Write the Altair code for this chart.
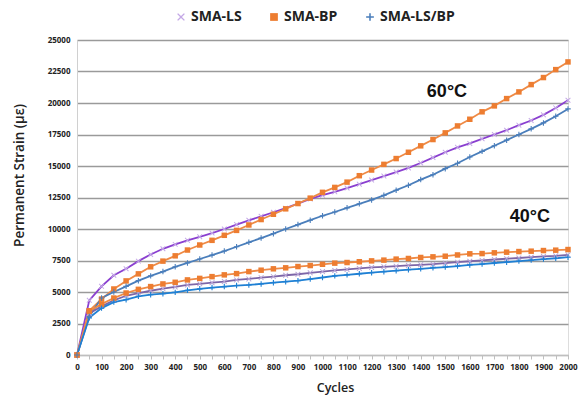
import altair as alt
import pandas as pd

cycles = list(range(0, 2001, 50))

ls_60 = [0, 4340, 5450, 6330, 6850, 7450, 7980, 8430, 8780, 9100, 9380,
         9680, 10000, 10350, 10690, 11010, 11330, 11650, 12020, 12390, 12680,
         12950, 13250, 13560, 13880, 14200, 14520, 14850, 15240, 15670, 16090,
         16480, 16790, 17160, 17500, 17840, 18240, 18610, 19060, 19610, 20220]
bp_60 = [0, 3510, 4440, 5240, 5880, 6440, 7000, 7450, 7870, 8330, 8730,
         9100, 9500, 9890, 10320, 10750, 11170, 11600, 12020, 12450, 12910,
         13300, 13720, 14230, 14680, 15130, 15590, 16090, 16600, 17100, 17630,
         18180, 18710, 19300, 19770, 20350, 20880, 21460, 22020, 22650, 23260]
lsbp_60 = [0, 3060, 4520, 5000, 5450, 5900, 6280, 6620, 7000, 7310, 7620,
           7930, 8250, 8590, 8940, 9280, 9630, 10000, 10350, 10700, 11050,
           11350, 11680, 12000, 12310, 12670, 13080, 13470, 13920, 14310, 14790,
           15220, 15710, 16160, 16610, 17050, 17500, 17950, 18420, 18950, 19530]
ls_40 = [0, 3300, 3860, 4340, 4700, 4920, 5100, 5270, 5400, 5560, 5650,
         5740, 5830, 5960, 6040, 6140, 6220, 6330, 6410, 6520, 6620,
         6710, 6790, 6870, 6950, 7000, 7050, 7110, 7160, 7210, 7290,
         7370, 7440, 7510, 7580, 7640, 7700, 7760, 7820, 7870, 7950]
bp_40 = [0, 3480, 4040, 4520, 4920, 5210, 5430, 5640, 5770, 5960, 6080,
         6220, 6360, 6460, 6620, 6730, 6840, 6920, 7020, 7100, 7200,
         7290, 7340, 7400, 7470, 7530, 7610, 7660, 7740, 7790, 7840,
         7940, 8030, 8050, 8110, 8160, 8210, 8240, 8290, 8320, 8370]
lsbp_40 = [0, 2950, 3720, 4200, 4390, 4660, 4790, 4870, 4970, 5130, 5250,
           5350, 5430, 5510, 5560, 5640, 5740, 5820, 5900, 6030, 6150,
           6280, 6360, 6450, 6530, 6610, 6690, 6770, 6840, 6920, 6980,
           7060, 7150, 7220, 7300, 7370, 7450, 7530, 7610, 7680, 7760]

series_names = ["SMA-LS", "SMA-BP", "SMA-LS/BP"]
ann_labels = ["60°C", "40°C"]
ann_x = [1507, 1845]
ann_y = [20870, 10950]

rows = []
for name, temp, vals in [("SMA-LS", "60", ls_60), ("SMA-BP", "60", bp_60), ("SMA-LS/BP", "60", lsbp_60),
                         ("SMA-LS", "40", ls_40), ("SMA-BP", "40", bp_40), ("SMA-LS/BP", "40", lsbp_40)]:
    for c, v in zip(cycles, vals):
        rows.append({"Cycles": c, "Strain": v, "Series": name, "Temp": temp, "Key": name + " " + temp})
df = pd.DataFrame(rows)
df60 = df[df.Temp == "60"]
df40 = df[df.Temp == "40"]
ann = pd.DataFrame({"label": ann_labels, "x": ann_x, "y": ann_y})

X_PATH = "M-1,-0.75L-0.75,-1L0,-0.25L0.75,-1L1,-0.75L0.25,0L1,0.75L0.75,1L0,0.25L-0.75,1L-1,0.75L-0.25,0Z"
PLUS_PATH = "M-1,-0.2L-0.2,-0.2L-0.2,-1L0.2,-1L0.2,-0.2L1,-0.2L1,0.2L0.2,0.2L0.2,1L-0.2,1L-0.2,0.2L-1,0.2Z"

key_domain = ["SMA-LS 60", "SMA-BP 60", "SMA-LS/BP 60", "SMA-LS 40", "SMA-BP 40", "SMA-LS/BP 40"]
line_colors = ["#8a3fd0", "#ef8a45", "#4a7ebb", "#7d66a8", "#ef8a45", "#1f80d4"]
marker_colors = ["#c4a8e6", "#ed7d31", "#4a7ebb", "#b8a4d6", "#ed7d31", "#1f80d4"]

x_axis = alt.Axis(values=cycles, labelExpr="datum.value % 100 == 0 ? format(datum.value, 'd') : ''",
                  grid=False, tickSize=4, tickColor="#bfbfbf", domainColor="#bfbfbf",
                  labelFont="Open Sans", labelFontWeight="bold", labelFontSize=8,
                  labelColor="#222", labelPadding=4, labelOverlap=False, labelFlush=False,
                  labelBound=False,
                  title="Cycles", titleFont="Open Sans", titleFontSize=12.5, titleFontWeight=600,
                  titleColor="#222", titlePadding=10, titleX=258)
y_axis = alt.Axis(values=list(range(0, 25001, 2500)), format="d", grid=True,
                  gridColor="#9a9a9a", gridWidth=1.6, ticks=False, domainColor="#d0d0d0",
                  labelFont="Open Sans", labelFontWeight="bold", labelFontSize=8,
                  labelColor="#222", labelPadding=7, labelOverlap=False,
                  title="Permanent Strain (με)", titleFont="Open Sans", titleFontSize=13.5,
                  titleFontWeight=600, titleColor="#222", titleAngle=-90,
                  titleX=-58, titleY=135, titleAlign="center", titleBaseline="middle")


def xenc(field="Cycles"):
    return alt.X(f"{field}:Q", scale=alt.Scale(domain=[0, 2000], nice=False), axis=x_axis)


def yenc(field="Strain"):
    return alt.Y(f"{field}:Q", scale=alt.Scale(domain=[0, 25000], nice=False), axis=y_axis)


lines = alt.Chart(df).mark_line(strokeWidth=1.8).encode(
    x=xenc(), y=yenc(),
    color=alt.Color("Key:N", scale=alt.Scale(domain=key_domain, range=line_colors), legend=None),
    detail="Key:N",
)

pts60 = alt.Chart(df60).mark_point(filled=True, opacity=1, size=30).encode(
    x=xenc(), y=yenc(),
    color=alt.Color("Series:N", scale=alt.Scale(domain=series_names, range=marker_colors[:3]),
                    legend=alt.Legend(title=None, orient="none", direction="horizontal",
                                      legendX=97, legendY=-30, labelFont="Open Sans",
                                      labelFontWeight="bold", labelFontSize=14, labelColor="#222",
                                      symbolSize=60, labelOffset=3, columnPadding=25)),
    shape=alt.Shape("Series:N", scale=alt.Scale(domain=series_names, range=[X_PATH, "square", PLUS_PATH])),
)

pts40 = alt.Chart(df40).mark_point(filled=True, opacity=1, size=30).encode(
    x=xenc(), y=yenc(),
    color=alt.Color("Key:N", scale=alt.Scale(domain=key_domain[3:], range=marker_colors[3:]), legend=None),
    shape=alt.Shape("Series:N", scale=alt.Scale(domain=series_names, range=[X_PATH, "square", PLUS_PATH]),
                    legend=None),
)

texts = alt.Chart(ann).mark_text(font="Liberation Sans", fontWeight="bold", fontSize=18,
                                 color="#111", align="center", baseline="middle").encode(
    x=xenc("x"), y=yenc("y"), text="label:N")

chart = alt.layer(lines, pts40, pts60, texts).resolve_scale(
    color="independent", shape="independent"
).properties(
    width=491, height=315,
    autosize=alt.AutoSizeParams(type="none"),
    padding={"left": 77, "top": 40, "right": 10, "bottom": 46},
).configure_view(stroke=None).configure(background="white")

chart.save("out.html", embed_options={"renderer": "svg", "actions": False})
